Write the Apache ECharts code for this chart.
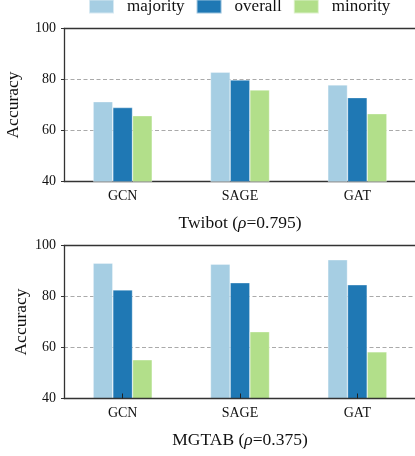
<!DOCTYPE html>
<html>
<head>
<meta charset="utf-8">
<script src="https://cdn.jsdelivr.net/npm/echarts@6/dist/echarts.min.js"></script>
<style>html,body{margin:0;padding:0;background:#fff;}#c{width:415px;height:456px;}</style>
</head>
<body>
<div id="c"></div>
<script>
const categories = ['GCN', 'SAGE', 'GAT'];
const seriesNames = ['majority', 'overall', 'minority'];
const twibotMajority = [71.3, 82.9, 77.9];
const twibotOverall = [69.0, 79.8, 72.9];
const twibotMinority = [65.8, 75.9, 66.6];
const mgtabMajority = [93.1, 92.7, 94.4];
const mgtabOverall = [82.6, 85.4, 84.6];
const mgtabMinority = [55.2, 66.2, 58.3];
const yTicks = [40, 60, 80, 100];
const titles = [['Twibot (', 'ρ', '=0.795)'], ['MGTAB (', 'ρ', '=0.375)']];
const colors = ['#a6cee3', '#1f78b4', '#b2df8a'];

const FONT = 'Liberation Serif';
const chart = echarts.init(document.getElementById('c'), null, {renderer: 'canvas'});

function xAxis(idx, nameGap, showTick) {
  const t = titles[idx];
  return {
    type: 'category', gridIndex: idx, data: categories, position: 'bottom',
    z: showTick ? 5 : 0,
    axisLine: {lineStyle: {color: '#333', width: 1.3}},
    axisTick: {show: showTick, inside: true, length: 5, alignWithLabel: true, lineStyle: {color: '#222', width: 1}},
    axisLabel: {fontFamily: FONT, fontSize: 14, color: '#111', margin: 8},
    name: '{n|' + t[0] + '}{i|' + t[1] + '}{n|' + t[2] + '}',
    nameLocation: 'middle', nameGap: nameGap, nameMoveOverlap: false,
    nameTextStyle: {
      fontFamily: FONT, fontSize: 17.5, color: '#111',
      rich: {
        n: {fontFamily: FONT, fontSize: 17.5, color: '#111'},
        i: {fontFamily: FONT, fontSize: 17.5, color: '#111', fontStyle: 'italic'}
      }
    }
  };
}
function topAxis(idx) {
  return {
    type: 'category', gridIndex: idx, data: categories, position: 'top', z: 10,
    axisLine: {show: true, lineStyle: {color: '#333', width: 1.3}},
    axisTick: {show: false}, axisLabel: {show: false}, splitLine: {show: false}
  };
}
function yAxis(idx, nameGap) {
  return {
    type: 'value', gridIndex: idx, min: yTicks[0], max: yTicks[yTicks.length - 1], interval: 20,
    axisLine: {show: true, lineStyle: {color: '#333', width: 1.3}},
    axisTick: {show: true, length: 3, lineStyle: {color: '#333'}},
    axisLabel: {fontFamily: FONT, fontSize: 14, color: '#111', margin: 8},
    splitLine: {show: true, lineStyle: {color: '#aaa', type: [4, 2.5], width: 1}},
    name: 'Accuracy', nameLocation: 'middle', nameGap: nameGap, nameMoveOverlap: false,
    nameTextStyle: {fontFamily: FONT, fontSize: 17.5, color: '#111'}
  };
}
const dataSets = [[twibotMajority, twibotOverall, twibotMinority], [mgtabMajority, mgtabOverall, mgtabMinority]];
const series = [];
dataSets.forEach((ds, gi) => {
  ds.forEach((vals, si) => {
    series.push({
      name: seriesNames[si], type: 'bar', xAxisIndex: gi, yAxisIndex: gi,
      data: vals, barWidth: 19.7, barGap: '0%',
      itemStyle: {color: colors[si], borderColor: 'rgba(255,255,255,0.55)', borderWidth: 0.6}
    });
  });
});

chart.setOption({
  animation: false,
  color: colors,
  legend: {
    data: seriesNames, left: 88, top: -2, padding: 0,
    itemWidth: 25, itemHeight: 14, itemGap: 11, icon: 'rect',
    textStyle: {fontFamily: FONT, fontSize: 17, color: '#111', padding: [0, 0, 0, 8]}
  },
  grid: [
    {left: 64, top: 28.5, width: 352, height: 153, outerBoundsMode: 'none', containLabel: false},
    {left: 64, top: 245.5, width: 352, height: 153, outerBoundsMode: 'none', containLabel: false}
  ],
  xAxis: [xAxis(0, 33, false), xAxis(1, 33, true), topAxis(0), topAxis(1)],
  yAxis: [yAxis(0, 42), yAxis(1, 34)],
  series: series
});
</script>
</body>
</html>
